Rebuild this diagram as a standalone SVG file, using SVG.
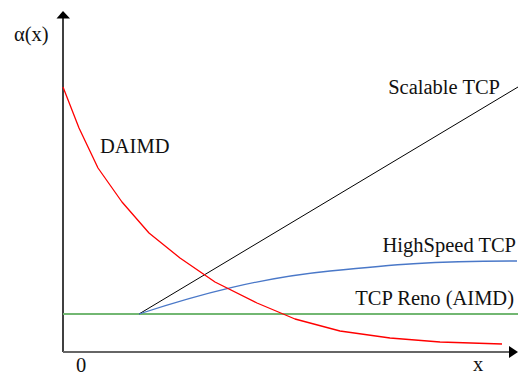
<svg xmlns="http://www.w3.org/2000/svg" width="518" height="375" viewBox="0 0 518 375">
  <style>
    .lbl { font-size: 20.5px; fill: #111; }
    .curve { fill: none; stroke-linejoin: round; }
  </style>
  <rect width="518" height="375" fill="#fff"/>

  <!-- axes -->
  <g id="axes" font-family="'Liberation Serif', 'DejaVu Serif', serif">
    <line x1="63" y1="352" x2="63" y2="16" stroke="#000" stroke-width="1.5"/>
    <polygon points="63,11 56.5,18.5 70,18.5" fill="#000"/>
    <line x1="63" y1="352" x2="511" y2="352" stroke="#666" stroke-width="2"/>
    <polygon points="518,352 509,346 509,358" fill="#000"/>
    <text class="lbl" x="14" y="41">α(x)</text>
    <text class="lbl" x="473" y="371">x</text>
    <text class="lbl" x="76" y="372">0</text>
  </g>

  <g id="connectors">
    <!-- TCP Reno (AIMD) -->
    <line id="reno" x1="63" y1="314" x2="518" y2="314" stroke="#72b772" stroke-width="2"/>
    <!-- Scalable TCP -->
    <line id="scalable" x1="139" y1="314" x2="518" y2="87" stroke="#000" stroke-width="1"/>
    <!-- HighSpeed TCP -->
    <path id="highspeed" class="curve" stroke="#4a78c8" stroke-width="1.3"
      d="M139,314 C200,294 260,278 330,271 C390,265 430,261 517,261"/>
    <!-- DAIMD -->
    <polyline id="daimd" class="curve" stroke="#ff0000" stroke-width="1.3"
      points="63,87 79,128 98,168 122,202 149,233 180,258 215,282 257,303 295,319 340,331 390,338 440,342 502,344"/>
  </g>

  <g id="labels" font-family="'Liberation Serif', 'DejaVu Serif', serif">
    <text class="lbl" x="100" y="153">DAIMD</text>
    <text class="lbl" x="500" y="94" text-anchor="end">Scalable TCP</text>
    <text class="lbl" x="516" y="252" text-anchor="end">HighSpeed TCP</text>
    <text class="lbl" x="514" y="305" text-anchor="end">TCP Reno (AIMD)</text>
  </g>
</svg>
